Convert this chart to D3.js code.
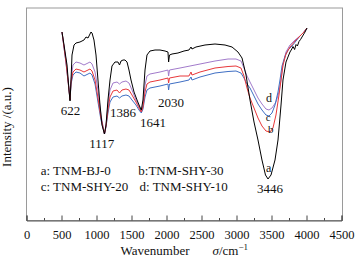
<!DOCTYPE html>
<html><head><meta charset="utf-8">
<script src="https://cdn.jsdelivr.net/npm/d3@7"></script>
<style>
html,body{margin:0;padding:0;background:#fff;}
svg{display:block;font-family:"Liberation Serif","Times New Roman",serif;}
</style></head>
<body>
<svg id="c" width="356" height="261"></svg>
<script>
// Wavenumber (cm^-1) and intensity (a.u.)
const seriesNames = ["a: TNM-BJ-0", "b:TNM-SHY-30", "c: TNM-SHY-20", "d: TNM-SHY-10"];
const seriesColors = ["#000000", "#e8383a", "#3f6fc4", "#a27bcb"];

const waveA = [507,536,579,607,622,636,650,679,707,764,821,850,879,907,921,936,964,993,1021,1050,1079,1114,1136,1164,1193,1221,1264,1307,1329,1350,1379,1407,1436,1464,1493,1536,1579,1614,1640,1664,1693,1721,1764,1836,1907,1979,2021,2030,2043,2079,2164,2250,2321,2350,2364,2421,2550,2693,2836,2936,3021,3079,3136,3193,3250,3307,3364,3414,3450,3493,3550,3593,3636,3664,3707,3764,3790,3807,3830,3850,3870,3893,3915,3936,3979,4007];
const intA  = [75.4,70.2,62.2,52.2,47.8,56.2,66.2,70.2,71,71.4,72.2,73.4,73,74.6,75.4,75,72.2,66.2,56.2,46.2,38.2,34.6,38.2,48.2,56.2,61.8,63.4,63.4,62.2,63.8,64.2,64.2,63.4,60.2,56.2,51.4,48.2,45.8,44.2,48.2,60.2,66.2,67.8,68.2,68.2,67.8,67.4,63.4,66.2,66.6,67,67.8,68.2,69.4,68.6,69.4,70.2,70.6,70.2,69.4,67.4,65,58.2,48.2,39.4,32.2,24.2,18.2,16.6,18.2,24.2,32.2,46.2,56.2,63.4,67.4,68.6,69.6,68.4,70.4,69.8,71.6,72.4,73.4,75.4,77];

const waveB = [507,564,607,622,636,664,707,764,821,879,907,936,979,1021,1064,1114,1136,1164,1193,1236,1293,1329,1364,1421,1464,1507,1564,1607,1640,1664,1693,1721,1764,1907,2021,2030,2043,2193,2321,2350,2364,2479,2693,2879,2993,3064,3107,3150,3193,3250,3307,3364,3421,3479,3521,3564,3607,3636,3664,3707,3764,3836,3907,3964,4007];
const intB  = [75.4,63.4,52.2,48.2,55.4,59.4,60.6,60.2,59.4,60.2,60.6,59.8,56.2,49,41,34.6,37.8,44.2,49.4,51.8,52.2,51,52.2,52.6,52.2,50.2,47.4,45,43.4,45.4,51.4,54.6,55.4,56.2,57,55,57,57.8,57.8,59.4,58.2,59.4,61,61.6,61.8,61,57.8,53,49,45,41,37.8,35.8,35.4,37,42.2,50.2,56.2,62.2,66.6,69.4,71.8,73.8,75.4,77];

const waveC = [507,564,607,622,636,664,707,764,821,879,907,936,979,1021,1064,1114,1136,1164,1193,1236,1293,1329,1364,1421,1464,1507,1564,1607,1640,1664,1693,1721,1764,1907,2021,2030,2043,2193,2321,2350,2364,2479,2693,2879,2993,3064,3107,3150,3193,3250,3307,3364,3421,3464,3507,3550,3593,3621,3650,3693,3736,3793,3850,3907,3964,4007];
const intC  = [75.4,63,52.2,48.2,54.6,58.2,59.4,59,57.8,58.6,59,58.2,54.6,47.4,40.2,34.6,37.4,43,47.4,49.4,49.8,49,49.8,50.2,49.8,48.2,46.2,44.2,43,44.6,49.4,52.2,53,53.8,54.6,52.2,54.6,55.4,56.2,57.4,56.2,57.4,59,59.6,59.8,59,57,54.6,53,49.8,46.6,44.2,42.2,41.8,43,46.2,51.4,56.2,61.8,65.8,68.2,69.8,71.8,73.8,75.4,77];

const waveD = [507,564,607,622,636,664,707,764,821,879,907,936,979,1021,1064,1114,1136,1164,1193,1236,1293,1329,1364,1421,1464,1507,1564,1607,1640,1664,1693,1721,1764,1907,2021,2030,2043,2193,2336,2479,2693,2879,2993,3064,3107,3150,3193,3250,3307,3364,3421,3464,3507,3564,3607,3636,3664,3707,3764,3836,3907,3964,4007];
const intD  = [75.4,64.2,53,48.2,56.2,62.2,63.4,63,62.2,63,63.4,62.6,59.4,52.2,42.2,34.6,38.2,46.2,52.2,55,55.4,54.6,55.4,55.8,55,52.2,48.2,45.8,43.4,46.2,54.2,57.8,58.6,59.4,60.2,57.8,60.2,61,61.8,62.6,63.8,64.6,64.6,63.8,61,57.8,55.4,52.2,49,46.6,44.6,44.2,45,47.4,51.4,56.2,62.2,67.4,70.2,72.2,73.8,75.4,77];

// Peak annotations: text, wavenumber position, intensity position
const peakLabels = ["622","1117","1386","1641","2030","3446","d","c","b","a"];
const peakWave   = [629,1074,1379,1807,2064,3479,3464,3454,3489,3460];
const peakInt    = [42.2,29.2,41.4,37.4,45.4,11,47.4,39.8,35.0,19.4];
const peakSize   = [13,13,13,13,13,13,12,11,11,12];

const xTicks = [0,500,1000,1500,2000,2500,3000,3500,4000,4500];
const xMinorTicks = [250,750,1250,1750,2250,2750,3250,3750,4250];

const svg = d3.select("#c");
const L = 26.5, R = 341.5, T = 8, B = 220.5;
const x = d3.scaleLinear().domain([0,4500]).range([L,R]);
const y = d3.scaleLinear().domain([0,85]).range([B,B-212.5]);

// frame
svg.append("rect").attr("x",L).attr("y",T).attr("width",R-L+1).attr("height",B-T)
  .attr("fill","none").attr("stroke","#9a9a9a").attr("stroke-width",1);

// bottom axis with inward ticks
const ax = svg.append("g").attr("transform",`translate(0,${B})`)
  .call(d3.axisBottom(x).tickValues(xTicks).tickSize(-5).tickPadding(10).tickFormat(d3.format("d")));
ax.select(".domain").attr("stroke","#555");
ax.selectAll(".tick line").attr("stroke","#444");
ax.selectAll(".tick text").attr("font-family","Liberation Serif").attr("font-size",12.5).attr("fill","#111");
svg.append("g").attr("transform",`translate(0,${B})`)
  .call(d3.axisBottom(x).tickValues(xMinorTicks).tickSize(-2.5).tickFormat(""))
  .call(g=>g.select(".domain").remove())
  .selectAll(".tick line").attr("stroke","#444");

// curves
const waves = [waveA, waveB, waveC, waveD];
const ints = [intA, intB, intC, intD];
const line = d3.line().x(d=>x(d[0])).y(d=>y(d[1]));
const order = [3,2,1,0];
order.forEach(i=>{
  const pts = waves[i].map((w,k)=>[w, ints[i][k]]);
  svg.append("path").attr("d",line(pts)).attr("fill","none")
    .attr("stroke",seriesColors[i]).attr("stroke-width",1);
});

// peak labels
peakLabels.forEach((t,i)=>{
  svg.append("text").attr("x",x(peakWave[i])).attr("y",y(peakInt[i]))
    .attr("text-anchor","middle").attr("font-size",peakSize[i]).attr("fill","#111").text(t);
});

// legend
const legX = [40.7,138.3,40.7,139.5];
const legY = [175,175,191,191];
seriesNames.forEach((t,i)=>{
  svg.append("text").attr("x",legX[i]).attr("y",legY[i]).attr("font-size",13).attr("fill","#111").text(t);
});

// axis titles
const xt = svg.append("text").attr("x",120.5).attr("y",255).attr("font-size",13).attr("fill","#111");
xt.append("tspan").text("Wavenumber");
xt.append("tspan").attr("x",212.5).attr("font-style","italic").text("σ");
xt.append("tspan").text("/cm");
xt.append("tspan").attr("dy",-5).attr("font-size",9).text("−1");

svg.append("text").attr("transform","translate(11,127) rotate(-90)")
  .attr("text-anchor","middle").attr("font-size",13).attr("fill","#111").text("Intensity /(a.u.)");
</script>
</body></html>
